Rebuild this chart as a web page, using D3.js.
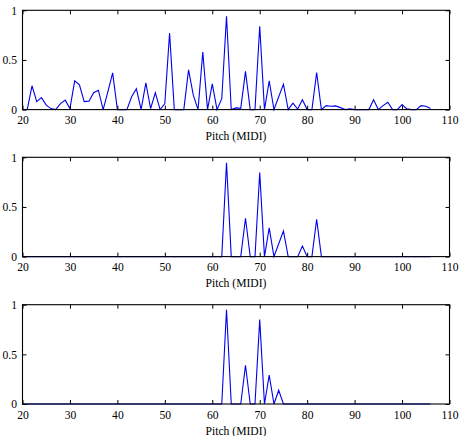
<!DOCTYPE html>
<html>
<head>
<meta charset="utf-8">
<script src="https://cdn.jsdelivr.net/npm/d3@7"></script>
<style>
  html, body { margin: 0; padding: 0; background: #fff; }
  svg { display: block; }
</style>
</head>
<body>
<svg id="chart" width="460" height="436"></svg>
<script>
// ---- data ----
const pitchFull = [21,22,23,24,25,26,27,28,29,30,31,32,33,34,35,36,37,38,39,40,
  41,42,43,44,45,46,47,48,49,50,51,52,53,54,55,56,57,58,59,60,
  61,62,63,64,65,66,67,68,69,70,71,72,73,74,75,76,77,78,79,80,
  81,82,83,84,85,86,87,88,89,90,91,92,93,94,95,96,97,98,99,100,
  101,102,103,104,105,106];
const salienceFull = [0,0.24,0.08,0.12,0.045,0.01,0,0.06,0.095,0.01,0.29,0.25,0.08,0.085,0.17,0.195,0,0.18,0.37,0,
  0,0,0.13,0.21,0,0.27,0.01,0.17,0,0.06,0.77,0,0,0,0.40,0.145,0,0.58,0,0.26,
  0,0.11,0.94,0,0.017,0.013,0.385,0,0,0.84,0,0.29,0,0.13,0.256,0,0.065,0.005,0.1,0,
  0,0.374,0,0.04,0.034,0.037,0.02,0,0.007,0,0,0,0,0.1,0,0.04,0.074,0,0,0.05,
  0.007,0,0,0.04,0.034,0.01];

const pitchSel = [20,21,22,23,24,25,26,27,28,29,30,31,32,33,34,35,36,37,38,39,40,
  41,42,43,44,45,46,47,48,49,50,51,52,53,54,55,56,57,58,59,60,
  61,62,63,64,65,66,67,68,69,70,71,72,73,74,75,76,77,78,79,80,
  81,82,83,84,85,86,87,88,89,90,91,92,93,94,95,96,97,98,99,100,
  101,102,103,104,105,106];
const salienceCandidates = [0,0,0,0,0,0,0,0,0,0,0,0,0,0,0,0,0,0,0,0,0,
  0,0,0,0,0,0,0,0,0,0,0,0,0,0,0,0,0,0,0,0,
  0,0,0.945,0,0,0,0.386,0,0,0.846,0,0.29,0,0.13,0.258,0,0,0,0.107,0,
  0,0.376,0,0,0,0,0,0,0,0,0,0,0,0,0,0,0,0,0,0,
  0,0,0,0,0,0];
const salienceFinal = [0,0,0,0,0,0,0,0,0,0,0,0,0,0,0,0,0,0,0,0,0,
  0,0,0,0,0,0,0,0,0,0,0,0,0,0,0,0,0,0,0,0,
  0,0,0.95,0,0,0,0.39,0,0,0.85,0,0.29,0,0.138,0,0,0,0,0,0,
  0,0,0,0,0,0,0,0,0,0,0,0,0,0,0,0,0,0,0,0,
  0,0,0,0,0,0];

const xTicks = [20,30,40,50,60,70,80,90,100,110];
const yTicks = [0,0.5,1];
const yTickLabels = ["0","0.5","1"];
const xLabel = "Pitch (MIDI)";

// ---- layout ----
const FONT = "'Liberation Serif', 'Times New Roman', serif";
const fontSize = "11.6px";
const svg = d3.select("#chart");
const x = d3.scaleLinear().domain([20,110]).range([22.5, 449.5]);
const panelTops = [10.3, 157.3, 304.7];
const panelH = 99.3;
const panels = [
  {px: pitchFull, py: salienceFull},
  {px: pitchSel, py: salienceCandidates},
  {px: pitchSel, py: salienceFinal}
];

panels.forEach((p, i) => {
  const top = panelTops[i], bottom = top + panelH;
  const y = d3.scaleLinear().domain([0,1]).range([bottom, top]);
  const g = svg.append("g");

  // line
  const line = d3.line().x(d => x(d[0])).y(d => y(d[1]));
  g.append("path")
    .datum(p.px.map((v, k) => [v, p.py[k]]))
    .attr("d", line)
    .attr("fill", "none")
    .attr("stroke", "#0000ee")
    .attr("stroke-width", 1.1);

  // axes
  const ax = (gen, tr) => {
    const a = g.append("g").attr("transform", tr).call(gen);
    a.attr("font-family", null).attr("font-size", null);
    a.select(".domain").remove();
    a.selectAll(".tick line").attr("stroke", "#000").attr("stroke-width", 1);
    a.selectAll("text")
      .style("font-family", FONT)
      .style("font-size", fontSize)
      .attr("fill", "#000");
    return a;
  };
  ax(d3.axisBottom(x).tickValues(xTicks).tickSize(-4).tickPadding(6.5).tickFormat(d3.format("d")),
     `translate(0,${bottom})`);
  ax(d3.axisTop(x).tickValues(xTicks).tickSize(-4).tickFormat(""), `translate(0,${top})`);
  ax(d3.axisLeft(y).tickValues(yTicks).tickSize(-4).tickPadding(5.5).tickFormat((d, k) => yTickLabels[k]),
     `translate(${x.range()[0]},0)`);
  ax(d3.axisRight(y).tickValues(yTicks).tickSize(-4).tickFormat(""), `translate(${x.range()[1]},0)`);

  // frame
  g.append("rect")
    .attr("x", x.range()[0]).attr("y", top)
    .attr("width", x.range()[1] - x.range()[0]).attr("height", panelH)
    .attr("fill", "none").attr("stroke", "#000").attr("stroke-width", 1.1);

  // x label
  g.append("text")
    .attr("x", (x.range()[0] + x.range()[1]) / 2)
    .attr("y", bottom + 30.5)
    .attr("text-anchor", "middle")
    .style("font-family", FONT)
    .style("font-size", fontSize)
    .attr("fill", "#000")
    .text(xLabel);
});
</script>
</body>
</html>
